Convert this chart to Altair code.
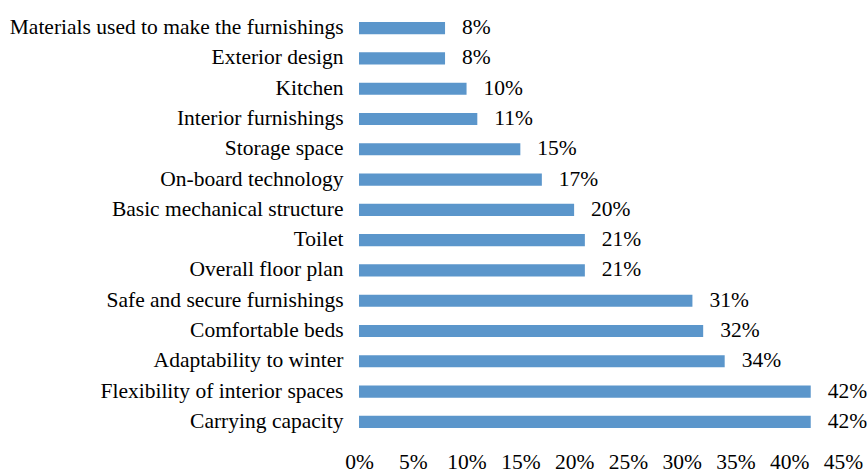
import altair as alt
import pandas as pd

categories = [
    "Materials used to make the furnishings",
    "Exterior design",
    "Kitchen",
    "Interior furnishings",
    "Storage space",
    "On-board technology",
    "Basic mechanical structure",
    "Toilet",
    "Overall floor plan",
    "Safe and secure furnishings",
    "Comfortable beds",
    "Adaptability to winter",
    "Flexibility of interior spaces",
    "Carrying capacity",
]
values = [0.08, 0.08, 0.10, 0.11, 0.15, 0.17, 0.20, 0.21, 0.21, 0.31, 0.32, 0.34, 0.42, 0.42]
x_ticks = [0, 0.05, 0.10, 0.15, 0.20, 0.25, 0.30, 0.35, 0.40, 0.45]

df = pd.DataFrame({"category": categories, "value": values})

FONT = "'Liberation Serif', 'Times New Roman', serif"
FS = 21.5

base = alt.Chart(df).encode(
    y=alt.Y(
        "category:N",
        sort=categories,
        title=None,
        scale=alt.Scale(paddingInner=0.6, paddingOuter=0.3),
        axis=alt.Axis(
            domain=False,
            ticks=False,
            labelPadding=16,
            labelFont=FONT,
            labelFontSize=FS,
            labelColor="#000000",
            labelLimit=500,
        ),
    ),
    x=alt.X(
        "value:Q",
        title=None,
        scale=alt.Scale(domain=[0, 0.45], nice=False),
        axis=alt.Axis(
            values=x_ticks,
            format=".0%",
            domain=False,
            ticks=False,
            grid=False,
            labelPadding=14,
            labelFont=FONT,
            labelFontSize=FS,
            labelColor="#000000",
            labelFlush=False,
        ),
    ),
)

bars = base.mark_bar(color="#5b96cb")
labels = base.mark_text(
    align="left", baseline="middle", dx=17, font=FONT, fontSize=FS, color="#000000"
).encode(text=alt.Text("value:Q", format=".0%"))

chart = (
    (bars + labels)
    .properties(width=484, height=424)
    .configure_view(stroke=None)
    .properties(
        autosize=alt.AutoSizeParams(type="none"),
        padding={"left": 359, "top": 13, "right": 24, "bottom": 35},
    )
)

chart.save("out.html", embed_options={"renderer": "svg", "actions": False})
